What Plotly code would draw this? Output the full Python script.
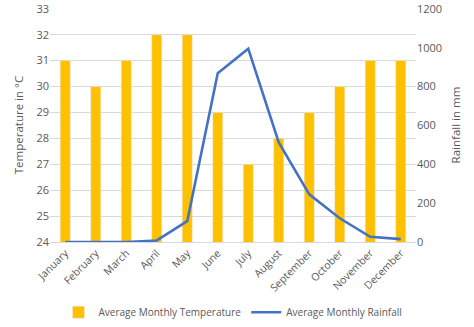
import plotly.graph_objects as go

months = ["January", "February", "March", "April", "May", "June", "July",
          "August", "September", "October", "November", "December"]
temperature = [31, 30, 31, 32, 32, 29, 27, 28, 29, 30, 31, 31]
rainfall = [0, 0, 0, 8, 107, 868, 995, 512, 245, 122, 27, 15]

fig = go.Figure()
fig.add_trace(go.Bar(x=months, y=temperature, name="Average Monthly Temperature",
                     marker_color="#FFC000", width=0.33, yaxis="y"))
fig.add_trace(go.Scatter(x=months, y=rainfall, name="Average Monthly Rainfall",
                         mode="lines", line=dict(color="#4472C4", width=2.6), yaxis="y2"))

fig.update_layout(
    width=474, height=327,
    margin=dict(l=50, r=58, t=8, b=85, autoexpand=False),
    plot_bgcolor="white", paper_bgcolor="white",
    font=dict(family="Open Sans", size=10, color="#595959"),
    xaxis=dict(tickangle=-45, showline=True, linecolor="#D9D9D9", ticks="",
               automargin=False, tickfont=dict(size=10.5, color="#595959")),
    yaxis=dict(range=[24, 33.03], tick0=24, dtick=1, showgrid=True, gridcolor="#D9D9D9",
               zeroline=False, automargin=False,
               title=dict(text="Temperature in °C", font=dict(size=11.5), standoff=10),
               tickfont=dict(size=11)),
    yaxis2=dict(range=[0, 1200 * 9.03 / 9], tick0=0, dtick=200, overlaying="y",
                side="right", showgrid=False,
                zeroline=False, automargin=False,
                title=dict(text="Rainfall in mm", font=dict(size=11.5), standoff=10),
                tickfont=dict(size=11)),
    legend=dict(orientation="h", x=0.5, xanchor="center",
                y=-0.30, yanchor="middle",
                font=dict(size=10, color="#595959"), itemwidth=30, tracegroupgap=0),
    bargap=0.5,
)

fig.write_html("out.html")
